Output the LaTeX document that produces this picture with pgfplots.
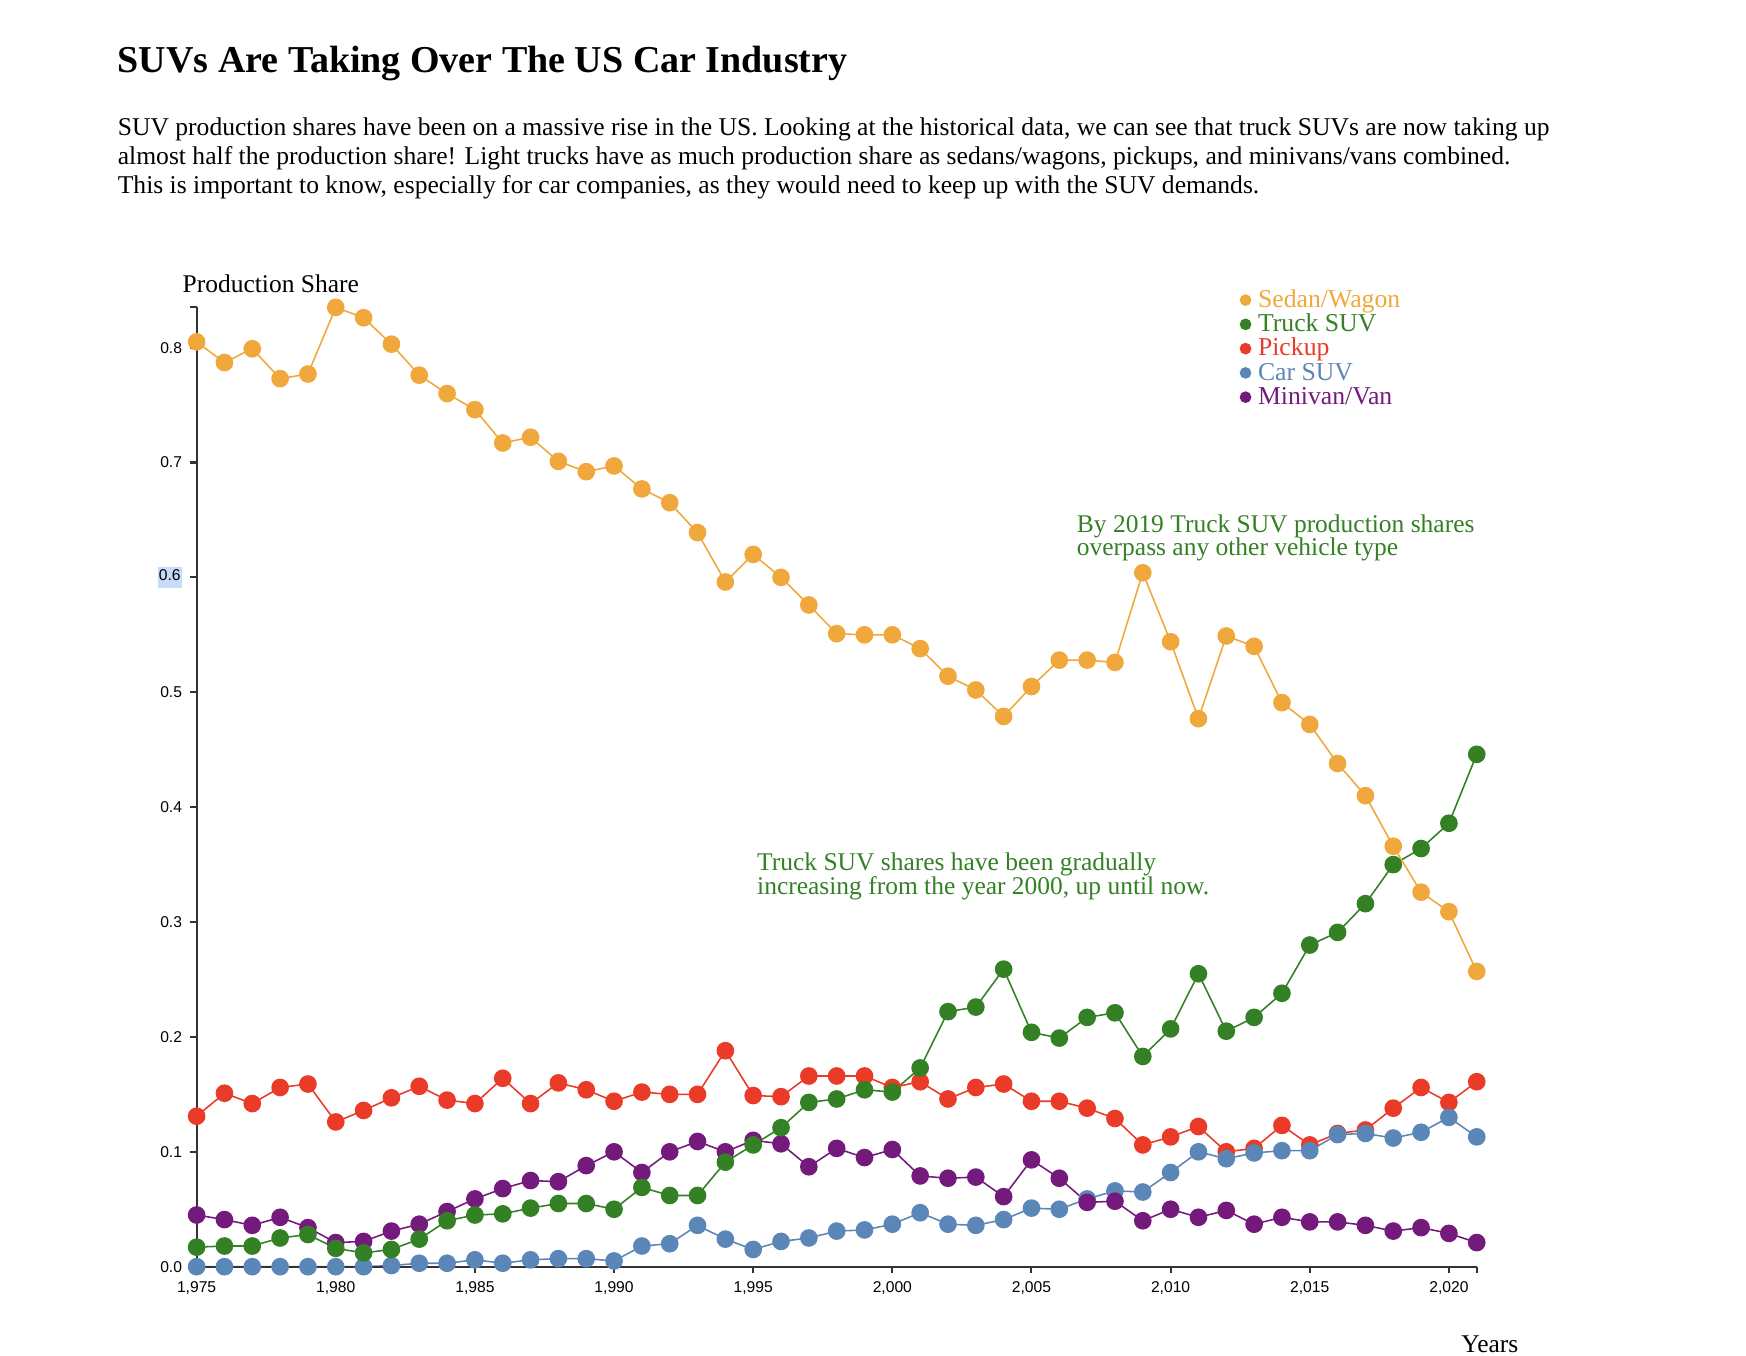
\documentclass[border=0pt]{standalone}
\usepackage{fontspec}
\setmainfont{Liberation Serif}
\newfontfamily\ticksfont{Liberation Sans}
\usepackage{pgfplots}
\pgfplotsset{compat=1.18}
\usepackage{pgfplotstable}

\definecolor{sedan}{HTML}{F0A83C}
\definecolor{truck}{HTML}{338025}
\definecolor{pickup}{HTML}{EA3A28}
\definecolor{carsuv}{HTML}{5A86B8}
\definecolor{minivan}{HTML}{741A7D}
\definecolor{axisgray}{HTML}{333333}
\definecolor{selblue}{HTML}{C6DCF8}

% production shares by vehicle type
\pgfplotstableread{
year sedan truck pickup carsuv minivan
1975 0.805 0.017 0.131 0.000 0.045
1976 0.787 0.018 0.151 0.000 0.041
1977 0.799 0.018 0.142 0.000 0.036
1978 0.773 0.025 0.156 0.000 0.043
1979 0.777 0.028 0.159 0.000 0.034
1980 0.835 0.016 0.126 0.000 0.021
1981 0.826 0.012 0.136 0.000 0.022
1982 0.803 0.015 0.147 0.001 0.031
1983 0.776 0.024 0.157 0.003 0.037
1984 0.760 0.040 0.145 0.003 0.048
1985 0.746 0.045 0.142 0.006 0.059
1986 0.717 0.046 0.164 0.003 0.068
1987 0.722 0.051 0.142 0.006 0.075
1988 0.701 0.055 0.160 0.007 0.074
1989 0.692 0.055 0.154 0.007 0.088
1990 0.697 0.050 0.144 0.005 0.100
1991 0.677 0.069 0.152 0.018 0.082
1992 0.665 0.062 0.150 0.020 0.100
1993 0.639 0.062 0.150 0.036 0.109
1994 0.596 0.091 0.188 0.024 0.100
1995 0.620 0.106 0.149 0.015 0.110
1996 0.600 0.121 0.148 0.022 0.107
1997 0.576 0.143 0.166 0.025 0.087
1998 0.551 0.146 0.166 0.031 0.103
1999 0.550 0.154 0.166 0.032 0.095
2000 0.550 0.152 0.156 0.037 0.102
2001 0.538 0.173 0.161 0.047 0.079
2002 0.514 0.222 0.146 0.037 0.077
2003 0.502 0.226 0.156 0.036 0.078
2004 0.479 0.259 0.159 0.041 0.061
2005 0.505 0.204 0.144 0.051 0.093
2006 0.528 0.199 0.144 0.050 0.077
2007 0.528 0.217 0.138 0.059 0.056
2008 0.526 0.221 0.129 0.066 0.057
2009 0.604 0.183 0.106 0.065 0.040
2010 0.544 0.207 0.113 0.082 0.050
2011 0.477 0.255 0.122 0.100 0.043
2012 0.549 0.205 0.100 0.094 0.049
2013 0.540 0.217 0.103 0.099 0.037
2014 0.491 0.238 0.123 0.101 0.043
2015 0.472 0.280 0.106 0.101 0.039
2016 0.438 0.291 0.116 0.115 0.039
2017 0.410 0.316 0.119 0.116 0.036
2018 0.366 0.350 0.138 0.112 0.031
2019 0.326 0.364 0.156 0.117 0.034
2020 0.309 0.386 0.143 0.130 0.029
2021 0.257 0.446 0.161 0.113 0.021
}\shares

\pgfplotsset{
  series/.style={#1, line width=0.7pt, mark=*, mark size=3.6pt,
    mark options={solid, fill=#1, draw=none}, forget plot},
}

\begin{document}
\begin{tikzpicture}
\path[use as bounding box] (0,0) rectangle (781pt,-606.5pt);

\begin{axis}[
  at={(87.95pt,-566.6pt)}, anchor=south west,
  scale only axis, width=572.6pt, height=429.1pt,
  xmin=1975, xmax=2021, ymin=0, ymax=0.835,
  axis x line*=bottom, axis y line*=left,
  axis line style={axisgray, line width=0.9pt},
  axis on top, clip=false,
  xtick={1975,1980,...,2020}, extra x ticks={2021}, extra x tick labels={},
  ytick={0,0.1,0.2,0.3,0.4,0.5,0.6,0.7,0.8},
  yticklabels={0.0,0.1,0.2,0.3,0.4,0.5,{\setlength{\fboxsep}{0.6pt}\colorbox{selblue}{\strut 0.6}},0.7,0.8},
  extra y ticks={0.835}, extra y tick labels={},
  tick align=outside, major tick length=3pt,
  tick style={axisgray, line width=0.9pt},
  tick label style={font=\ticksfont\fontsize{7}{8}\selectfont, text=black,
    /pgf/number format/assume math mode=true},
  x tick label style={/pgf/number format/.cd, 1000 sep={,}},
  legend style={draw=none, fill=none, at={(0.8145,1.0197)}, anchor=north west,
    font=\fontsize{11.5}{13}\selectfont, inner sep=0pt, row sep=0pt,
    nodes={inner sep=0pt, text height=8.2pt, text depth=2.65pt},
    /tikz/every odd column/.append style={column sep=3pt}},
  legend cell align=left,
  legend image code/.code={\fill[#1] (0.18cm,0.015cm) circle (2.4pt);},
]
\addlegendimage{sedan, fill=sedan}
\addlegendentry{\textcolor{sedan}{Sedan/Wagon}}
\addlegendimage{truck, fill=truck}
\addlegendentry{\textcolor{truck}{Truck SUV}}
\addlegendimage{pickup, fill=pickup}
\addlegendentry{\textcolor{pickup}{Pickup}}
\addlegendimage{carsuv, fill=carsuv}
\addlegendentry{\textcolor{carsuv}{Car SUV}}
\addlegendimage{minivan, fill=minivan}
\addlegendentry{\textcolor{minivan}{Minivan/Van}}

\addplot[series=pickup] table[x=year, y=pickup] {\shares};
\addplot[series=carsuv] table[x=year, y=carsuv] {\shares};
\addplot[series=minivan] table[x=year, y=minivan] {\shares};
\addplot[series=truck] table[x=year, y=truck] {\shares};
\addplot[series=sedan] table[x=year, y=sedan] {\shares};
\end{axis}

\begin{scope}[x=0.5pt, y=-0.5pt]
\node[anchor=base west, inner sep=0, font=\fontsize{17}{20}\selectfont\bfseries]
  at (105,65) {SUVs Are Taking Over The US Car Industry};
\begin{scope}[every node/.style={anchor=base west, inner sep=0, font=\fontsize{11.45}{13}\selectfont}]
\node at (105,121) {SUV production shares have been on a massive rise in the US. Looking at the historical data, we can see that truck SUVs are now taking up};
\node at (105,147) {almost half the production share! Light trucks have as much production share as sedans/wagons, pickups, and minivans/vans combined.};
\node at (105,173) {This is important to know, especially for car companies, as they would need to keep up with the SUV demands.};
\end{scope}
\node[anchor=base west, inner sep=0, font=\fontsize{11.4}{13}\selectfont] at (163,262) {Production Share};
\node[anchor=base west, inner sep=0, font=\fontsize{11.4}{13}\selectfont] at (1307,1210) {Years};
\begin{scope}[every node/.style={anchor=base west, inner sep=0, text=truck, font=\fontsize{11.4}{13}\selectfont}]
\node at (963,476) {By 2019 Truck SUV production shares};
\node at (963,497) {overpass any other vehicle type};
\node at (677,779) {Truck SUV shares have been gradually};
\node at (677,800) {increasing from the year 2000, up until now.};
\end{scope}
\end{scope}
\end{tikzpicture}
\end{document}
